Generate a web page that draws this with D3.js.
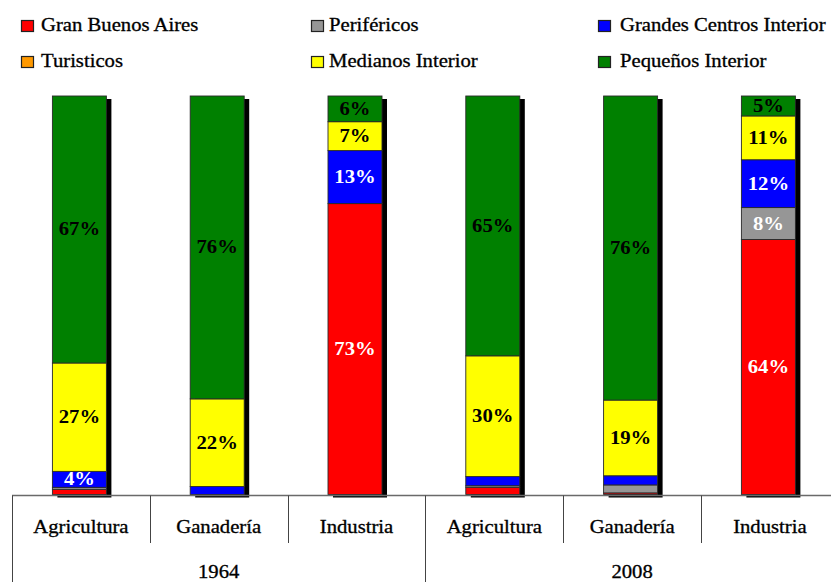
<!DOCTYPE html>
<html>
<head>
<meta charset="utf-8">
<script src="https://cdn.jsdelivr.net/npm/d3@7/dist/d3.min.js"></script>
<style>
  html, body { margin: 0; padding: 0; background: #fff; }
  svg { display: block; }
</style>
</head>
<body>
<svg id="chart" width="831" height="582"></svg>
<script>
// ---- data ----
const categories = ["Agricultura", "Ganadería", "Industria", "Agricultura", "Ganadería", "Industria"];
const years = ["1964", "2008"];
const seriesNames = ["Gran Buenos Aires", "Periféricos", "Grandes Centros Interior", "Turisticos", "Medianos Interior", "Pequeños Interior"];
const granBuenosAires = [1.3, 0.0, 73.0, 1.8, 0.4, 64.0];
const perifericos     = [0.5, 0.0, 0.0, 0.4, 2.0, 8.0];
const grandesCentros  = [4.0, 2.0, 13.3, 2.3, 2.3, 12.0];
const turisticos      = [0.0, 0.0, 0.0, 0.0, 0.0, 0.0];
const medianos        = [27.2, 22.0, 7.25, 30.3, 19.0, 11.0];
const pequenos        = [67.0, 76.0, 6.45, 65.2, 76.3, 5.0];

const seriesValues = [granBuenosAires, perifericos, grandesCentros, turisticos, medianos, pequenos];
const colors = ["#ff0000", "#969696", "#0000ff", "#ff9900", "#ffff00", "#008000"];
const labelColors = ["#ffffff", "#ffffff", "#ffffff", "#000000", "#000000", "#000000"];

// ---- layout ----
const FONT = "'Liberation Serif', 'Times New Roman', Times, serif";
const svg = d3.select("#chart").attr("font-family", FONT);
const SX = 1.15; // horizontal text stretch
const left = 12, bandW = 137.8;
const x = d3.scaleBand().domain(d3.range(categories.length))
  .range([left, left + bandW * categories.length]).padding(0);
const y = d3.scaleLinear().domain([0, 100]).range([494.5, 96]);
const barW = 54, barOff = -1.5;

const rows = categories.map((c, i) => {
  const r = { idx: i };
  seriesNames.forEach((s, k) => r[s] = seriesValues[k][i]);
  return r;
});
const stack = d3.stack().keys(seriesNames)(rows);

const barX = i => x(i) + x.bandwidth() / 2 - barW / 2 + barOff;

// shadows
svg.append("g").selectAll("rect").data(rows).join("rect")
  .attr("x", d => barX(d.idx) + 5)
  .attr("y", y(100) + 3)
  .attr("width", barW)
  .attr("height", y(0) - y(100))
  .attr("fill", "#000");

// segments
const segG = svg.append("g");
stack.forEach((layer, k) => {
  segG.append("g").selectAll("rect").data(layer.filter(d => d[1] - d[0] > 0)).join("rect")
    .attr("x", d => barX(d.data.idx))
    .attr("y", d => y(d[1]))
    .attr("width", barW)
    .attr("height", d => y(d[0]) - y(d[1]))
    .attr("fill", colors[k])
    .attr("stroke", "#2a2a2a")
    .attr("stroke-width", 0.9);
});

// labels
stack.forEach((layer, k) => {
  svg.append("g").selectAll("text").data(layer.filter(d => d[1] - d[0] >= 3.5)).join("text")
    .attr("transform", d => `translate(${barX(d.data.idx) + barW / 2},${(y(d[0]) + y(d[1])) / 2 + 6}) scale(${SX},1)`)
    .attr("text-anchor", "middle")
    .attr("font-family", FONT)
    .attr("font-size", 18)
    .attr("font-weight", "bold")
    .attr("fill", labelColors[k])
    .text(d => Math.round(d[1] - d[0]) + "%");
});

// axis lines
svg.append("line").attr("x1", left).attr("x2", 831).attr("y1", 495.5).attr("y2", 495.5)
  .attr("stroke", "#6a6a6a").attr("stroke-width", 1.5);
// category separators
svg.append("g").selectAll("line").data(d3.range(categories.length + 1)).join("line")
  .attr("x1", i => Math.round(left + i * bandW) + 0.5)
  .attr("x2", i => Math.round(left + i * bandW) + 0.5)
  .attr("y1", 495.5)
  .attr("y2", i => (i % 3 === 0) ? 582 : 543)
  .attr("stroke", "#444").attr("stroke-width", 1);

const dark = sel => sel.attr("fill", "#000").attr("stroke", "#000").attr("stroke-width", 0.3);

// category labels
svg.append("g").selectAll("text").data(categories).join("text")
  .attr("transform", (d, i) => `translate(${x(i) + x.bandwidth() / 2},533) scale(${SX},1)`)
  .attr("text-anchor", "middle").attr("font-family", FONT).attr("font-size", 18)
  .call(dark)
  .text(d => d);
// year labels
svg.append("g").selectAll("text").data(years).join("text")
  .attr("transform", (d, i) => `translate(${left + bandW * 3 * i + bandW * 1.5},578) scale(${SX},1)`)
  .attr("text-anchor", "middle").attr("font-family", FONT).attr("font-size", 18)
  .call(dark)
  .text(d => d);

// legend
const legCols = [21, 311, 598];
const legRows = [26, 62];
const leg = svg.append("g").selectAll("g").data(seriesNames).join("g")
  .attr("transform", (d, i) => `translate(${legCols[i % 3]},${legRows[Math.floor(i / 3)]})`);
leg.append("rect").attr("x", 0.5).attr("y", -5.5).attr("width", 12).attr("height", 11)
  .attr("fill", (d, i) => colors[i]).attr("stroke", "#222").attr("stroke-width", 1.2);
leg.append("text")
  .attr("transform", (d, i) => `translate(${i % 3 === 0 ? 20 : (i % 3 === 1 ? 18 : 22)},5) scale(${SX},1)`)
  .attr("font-family", FONT)
  .attr("font-size", 18)
  .call(dark)
  .text(d => d);
</script>
</body>
</html>
